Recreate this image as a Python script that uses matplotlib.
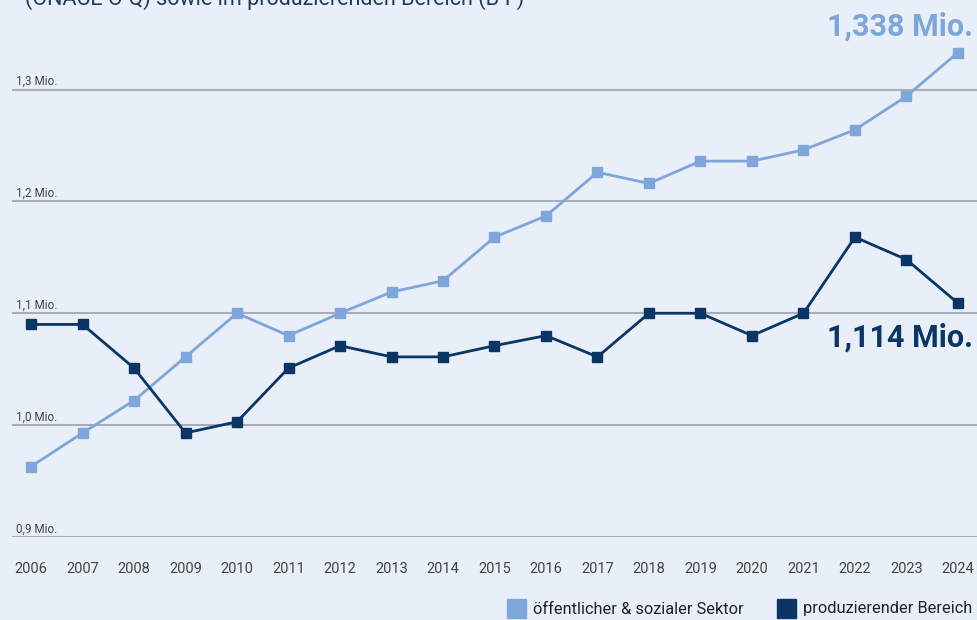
import numpy as np
import matplotlib.pyplot as plt

years = list(range(2006, 2025))
oeffentlich = [0.963, 0.993, 1.022, 1.061, 1.100, 1.080, 1.100, 1.119, 1.129, 1.168,
               1.187, 1.226, 1.216, 1.236, 1.236, 1.246, 1.264, 1.294, 1.333]
produzierend = [1.090, 1.090, 1.051, 0.993, 1.003, 1.051, 1.071, 1.061, 1.061, 1.071,
                1.080, 1.061, 1.100, 1.100, 1.080, 1.100, 1.168, 1.148, 1.109]
yticks = [0.9, 1.0, 1.1, 1.2, 1.3]
ytick_labels = ["0,9 Mio.", "1,0 Mio.", "1,1 Mio.", "1,2 Mio.", "1,3 Mio."]
series_names = ["öffentlicher & sozialer Sektor", "produzierender Bereich"]
end_labels = ["1,338 Mio.", "1,114 Mio."]

bg = "#e8eff8"
light = "#7ea6da"
dark = "#0b3564"

plt.rcParams['font.family'] = ['Roboto', 'DejaVu Sans']

fig = plt.figure(figsize=(9.77, 6.2), dpi=100, facecolor=bg)
W, H = 977, 620
# axes spans x 12..977, y 0..537 (pixels)
ax = fig.add_axes([12 / W, 1 - 537 / H, (977 - 12) / W, 537 / H])
ax.set_facecolor(bg)
ax.set_xlim(2005.63, 2024.37)
ax.set_ylim(0.9, 1.380)

for t, lab in zip(yticks, ytick_labels):
    ax.axhline(t, color="#a9adb3", lw=1.5, zorder=1)
    ax.annotate(lab, (0, t), xycoords=("axes fraction", "data"), xytext=(3, 1),
                textcoords="offset points", fontsize=8.5, color="#444444", va="bottom")

ax.plot(years, oeffentlich, color=light, lw=2, marker="s", ms=6.5, zorder=3)
ax.plot(years, produzierend, color=dark, lw=2, marker="s", ms=6.5, zorder=3)

ax.set_yticks([])
ax.set_xticks(years)
ax.set_xticklabels([str(y) for y in years], fontsize=10.5, color="#444444")
ax.tick_params(axis="x", length=0, pad=18)
for s in ax.spines.values():
    s.set_visible(False)

ax.text(2024.3, 1.356, end_labels[0], color=light, fontsize=22, fontweight="bold",
        ha="right", va="center")
ax.text(2024.3, 1.0782, end_labels[1], color=dark, fontsize=22, fontweight="bold",
        ha="right", va="center")

# cut-off subtitle at the very top
fig.text(25 / W, 1 - 5 / H, "(ÖNACE O-Q) sowie im produzierenden Bereich (B-F)",
         fontsize=15.5, color="#1f3a5f", va="baseline")

# legend
fig.patches.append(plt.Rectangle((507 / W, 1 - 618 / H), 19 / W, 19 / H,
                                 transform=fig.transFigure, color=light))
fig.text(533 / W, 1 - 609 / H, series_names[0], fontsize=11.8, color="#222222", va="center")
fig.patches.append(plt.Rectangle((777 / W, 1 - 618 / H), 19 / W, 19 / H,
                                 transform=fig.transFigure, color=dark))
fig.text(803 / W, 1 - 609 / H, series_names[1], fontsize=11.8, color="#222222", va="center")

fig.savefig("out.png", dpi=100, facecolor=bg)
